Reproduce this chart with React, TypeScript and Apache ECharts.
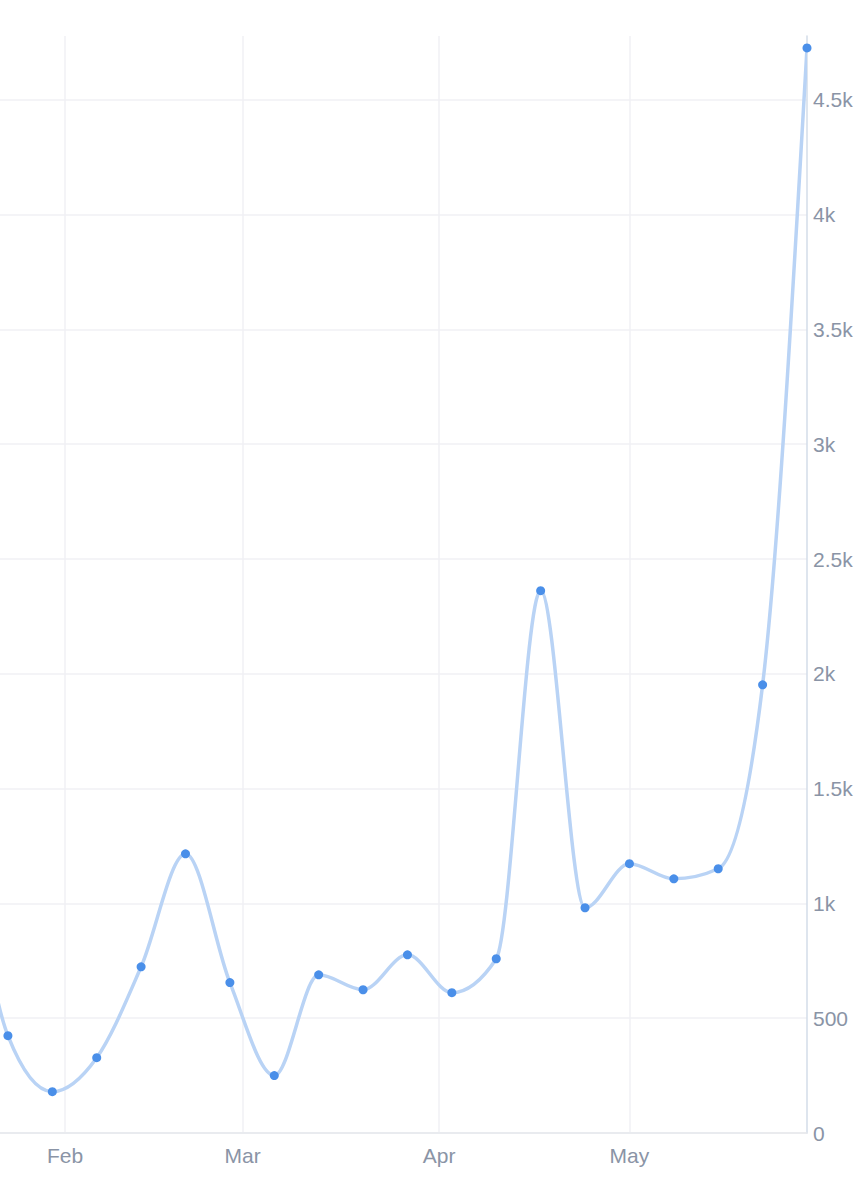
import React, { useEffect, useRef } from "react";
import * as echarts from "echarts";

// Weekly data points (Mondays, 2023)
const dates: string[] = [
  "2023-01-16", "2023-01-23", "2023-01-30", "2023-02-06", "2023-02-13",
  "2023-02-20", "2023-02-27", "2023-03-06", "2023-03-13", "2023-03-20",
  "2023-03-27", "2023-04-03", "2023-04-10", "2023-04-17", "2023-04-24",
  "2023-05-01", "2023-05-08", "2023-05-15", "2023-05-22", "2023-05-29",
];
const values: number[] = [
  1450, 424, 180, 328, 724,
  1216, 655, 250, 689, 624,
  776, 611, 759, 2362, 981,
  1173, 1107, 1151, 1952, 4726,
];
const monthNames: string[] = ["Jan", "Feb", "Mar", "Apr", "May", "Jun", "Jul", "Aug", "Sep", "Oct", "Nov", "Dec"];

const toTs = (s: string): number => {
  const [y, m, d] = s.split("-").map(Number);
  return new Date(y, m - 1, d).getTime();
};

// Monotone cubic (Fritsch–Carlson, as in d3.curveMonotoneX) path through pixel points
function monotonePath(pts: number[][]): string {
  const n = pts.length;
  if (n < 2) return "";
  const sign = (v: number) => (v < 0 ? -1 : 1);
  const t: number[] = new Array(n).fill(0);
  const slope = (i: number) => (pts[i + 1][1] - pts[i][1]) / (pts[i + 1][0] - pts[i][0]);
  for (let i = 1; i < n - 1; i++) {
    const h0 = pts[i][0] - pts[i - 1][0];
    const h1 = pts[i + 1][0] - pts[i][0];
    const s0 = (pts[i][1] - pts[i - 1][1]) / h0;
    const s1 = (pts[i + 1][1] - pts[i][1]) / h1;
    const p = (s0 * h1 + s1 * h0) / (h0 + h1);
    t[i] = (sign(s0) + sign(s1)) * Math.min(Math.abs(s0), Math.abs(s1), 0.5 * Math.abs(p)) || 0;
  }
  if (n === 2) {
    t[0] = t[1] = slope(0);
  } else {
    t[0] = (3 * slope(0) - t[1]) / 2;
    t[n - 1] = (3 * slope(n - 2) - t[n - 2]) / 2;
  }
  let d = `M${pts[0][0]},${pts[0][1]}`;
  for (let i = 0; i < n - 1; i++) {
    const [x0, y0] = pts[i];
    const [x1, y1] = pts[i + 1];
    const dx = (x1 - x0) / 3;
    d += ` C${x0 + dx},${y0 + dx * t[i]} ${x1 - dx},${y1 - dx * t[i + 1]} ${x1},${y1}`;
  }
  return d;
}

export default function App() {
  const ref = useRef<HTMLDivElement>(null);
  useEffect(() => {
    if (!ref.current) return;
    const chart = echarts.init(ref.current, undefined, { renderer: "svg" });
    const xMin = new Date(2023, 0, 21, 18, 0, 0).getTime();
    const xMax = toTs("2023-05-29");
    const labelColor = "#8a94a6";
    const seriesData = dates.map((d, i) => [toTs(d), values[i]]);
    chart.setOption({
      animation: false,
      backgroundColor: "#ffffff",
      grid: { left: 0, right: 60, top: 36, bottom: 67, containLabel: false },
      xAxis: {
        type: "time",
        min: xMin,
        max: xMax,
        minInterval: 28 * 86400000,
        axisLine: { show: true, lineStyle: { color: "#e6e8ec", width: 1.5 } },
        axisTick: { show: false },
        splitLine: { show: true, showMinLine: false, showMaxLine: false, lineStyle: { color: "#f0f1f4", width: 1.5 } },
        axisLabel: {
          color: labelColor,
          fontSize: 21,
          fontFamily: "Liberation Sans, Arial, sans-serif",
          margin: 12,
          showMinLabel: false,
          showMaxLabel: false,
          formatter: (v: number) => {
            const d = new Date(v);
            if (d.getDate() === 1 && d.getHours() === 0) return monthNames[d.getMonth()];
            return "";
          },
        },
      },
      yAxis: {
        type: "value",
        position: "right",
        min: 0,
        max: 4778,
        interval: 500,
        axisLine: { show: true, lineStyle: { color: "#d3dde9", width: 1.5 } },
        axisTick: { show: false },
        splitLine: { show: true, showMaxLine: false, lineStyle: { color: "#f0f1f4", width: 1.5 } },
        axisLabel: {
          color: labelColor,
          fontSize: 21,
          fontFamily: "Liberation Sans, Arial, sans-serif",
          margin: 6,
          showMaxLabel: false,
          formatter: (v: number) => (v >= 1000 ? `${v / 1000}k` : `${v}`),
        },
      },
      series: [
        {
          type: "custom",
          clip: true,
          data: seriesData,
          encode: { x: 0, y: 1 },
          z: 2,
          renderItem: (params: any, api: any) => {
            if (params.dataIndex !== 0) return null;
            const pts = seriesData.map((p) => api.coord(p));
            return {
              type: "path",
              shape: { pathData: monotonePath(pts) },
              style: { stroke: "#b9d3f5", lineWidth: 3.5, fill: "none" },
            };
          },
        },
        {
          type: "scatter",
          clip: true,
          data: seriesData,
          symbol: "circle",
          symbolSize: 9,
          z: 3,
          itemStyle: { color: "#4a8fe9", borderWidth: 0, opacity: 1 },
        },
      ],
    });
    return () => chart.dispose();
  }, []);
  return (
    <div
      ref={ref}
      style={{ position: "fixed", left: 0, top: 0, width: 867, height: 1200 }}
    />
  );
}
